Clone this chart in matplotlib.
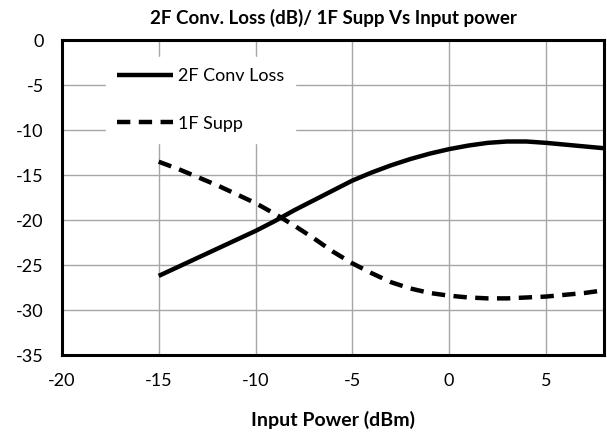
import matplotlib
matplotlib.use("Agg")
import matplotlib.pyplot as plt

x_dbm = [-15, -14, -13, -12, -11, -10, -9, -8, -7, -6, -5, -4, -3, -2, -1, 0, 1, 2, 3, 4, 5, 6, 7, 8]
conv_loss_2f = [-26.2, -25.2, -24.2, -23.2, -22.2, -21.2, -20.1, -18.9, -17.8, -16.7, -15.6, -14.7,
                -13.9, -13.2, -12.6, -12.1, -11.7, -11.4, -11.25, -11.25, -11.4, -11.6, -11.8, -12.0]
supp_1f = [-13.5, -14.3, -15.2, -16.1, -17.1, -18.1, -19.3, -20.6, -22.0, -23.5, -24.8, -25.9,
           -26.9, -27.6, -28.1, -28.4, -28.6, -28.7, -28.7, -28.6, -28.5, -28.3, -28.1, -27.8]
x_ticks = [-20, -15, -10, -5, 0, 5]
y_ticks = [0, -5, -10, -15, -20, -25, -30, -35]

plt.rcParams['font.family'] = ['Lato', 'DejaVu Sans']
plt.rcParams['axes.unicode_minus'] = False

fig = plt.figure(figsize=(6.07, 4.34), dpi=100)
ax = fig.add_axes([0.102, 0.182, 0.893, 0.725])

ax.plot(x_dbm, conv_loss_2f, color='black', lw=3.2, label='2F Conv Loss', solid_capstyle='butt')
ax.plot(x_dbm, supp_1f, color='black', lw=3.2, ls=(0, (3.0, 1.9)), label='1F Supp', dash_capstyle='butt')

ax.set_xlim(-20, 8)
ax.set_ylim(-35, 0)
ax.set_xticks(x_ticks)
ax.set_yticks(y_ticks)
ax.grid(True, color='#a6a6a6', lw=1)
ax.set_axisbelow(True)
for s in ax.spines.values():
    s.set_linewidth(2.2)
    s.set_color('black')
ax.tick_params(length=0, labelsize=13)
ax.tick_params(axis='y', pad=13)
ax.tick_params(axis='x', pad=13)

ax.set_title('2F Conv. Loss (dB)/ 1F Supp Vs Input power', fontsize=13.5, fontweight='bold', pad=12)
ax.set_xlabel('Input Power (dBm)', fontsize=14, fontweight='bold', labelpad=16)

leg = ax.legend(loc='upper left', bbox_to_anchor=(0.065, 0.975), frameon=True, fontsize=13,
                handlelength=3.1, labelspacing=1.75, borderpad=0.6, handletextpad=0.3)
leg.get_frame().set_facecolor('white')
leg.get_frame().set_edgecolor('white')
leg.get_frame().set_alpha(1)

fig.savefig('out.png', dpi=100)
